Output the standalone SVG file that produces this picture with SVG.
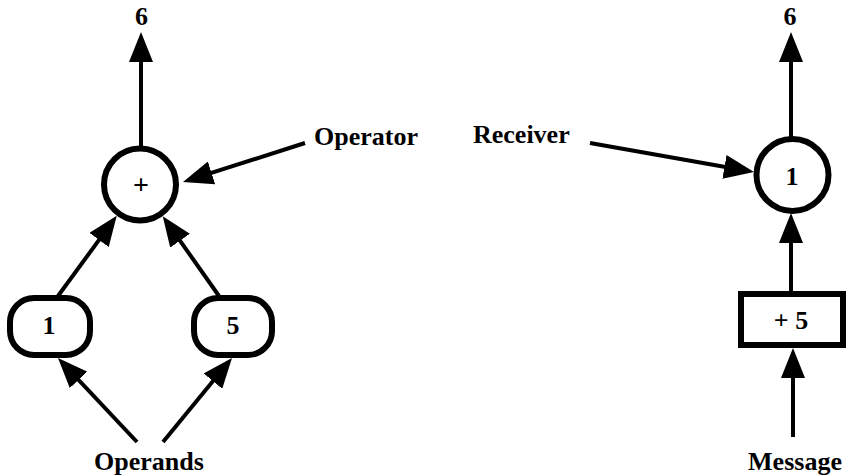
<svg xmlns="http://www.w3.org/2000/svg" width="848" height="476" viewBox="0 0 848 476">
<style>
.lbl{font-family:"Liberation Serif","Times New Roman",serif;font-weight:bold;font-size:26px;fill:#000}
.num{font-family:"Liberation Serif","Times New Roman",serif;font-weight:bold;font-size:26px;fill:#000;text-anchor:middle}
.node{fill:#fff;stroke:#000;stroke-width:6}
.conn{stroke:#000;stroke-width:4;fill:none;marker-end:url(#ah)}
</style>
<defs>
<marker id="ah" markerUnits="userSpaceOnUse" markerWidth="30" markerHeight="24" refX="24" refY="12" orient="auto" viewBox="0 0 30 24">
<path d="M0,0 L30,12 L0,24 z" fill="#000"/>
</marker>
</defs>
<rect width="848" height="476" fill="#fff"/>
<g id="connectors">
<line class="conn" x1="141" y1="147" x2="141" y2="38"/>
<line class="conn" x1="305" y1="143" x2="188.7" y2="180.2"/>
<line class="conn" x1="58" y1="296" x2="113.2" y2="220.6"/>
<line class="conn" x1="219" y1="296" x2="166.2" y2="221.1"/>
<line class="conn" x1="137" y1="442" x2="62.1" y2="362.4"/>
<line class="conn" x1="163" y1="442" x2="228.2" y2="362.6"/>
<line class="conn" x1="791" y1="137" x2="791" y2="38"/>
<line class="conn" x1="590" y1="143" x2="748.1" y2="171"/>
<line class="conn" x1="791" y1="291" x2="791" y2="219"/>
<line class="conn" x1="793" y1="437" x2="793" y2="354"/>
</g>
<g id="plus-node">
<circle class="node" cx="140" cy="184.5" r="36"/>
<text class="num" x="141" y="194" style="font-size:28px">+</text>
</g>
<g id="operand1">
<rect class="node" x="10" y="298" width="80" height="57" rx="24"/>
<text class="num" x="49" y="334">1</text>
</g>
<g id="operand5">
<rect class="node" x="194" y="298" width="78" height="57" rx="24"/>
<text class="num" x="233" y="334">5</text>
</g>
<g id="receiver-node">
<circle class="node" cx="792.5" cy="175" r="36"/>
<text class="num" x="792" y="185">1</text>
</g>
<g id="message-node">
<rect class="node" x="741" y="294" width="102" height="51"/>
<text class="num" x="791" y="329">+ 5</text>
</g>
<g id="labels">
<text class="num" x="141.5" y="25">6</text>
<text class="num" x="790" y="25">6</text>
<text class="lbl" x="314" y="145">Operator</text>
<text class="lbl" x="473" y="143">Receiver</text>
<text class="lbl" x="149" y="470" text-anchor="middle">Operands</text>
<text class="lbl" x="795" y="470" text-anchor="middle">Message</text>
</g>
</svg>
